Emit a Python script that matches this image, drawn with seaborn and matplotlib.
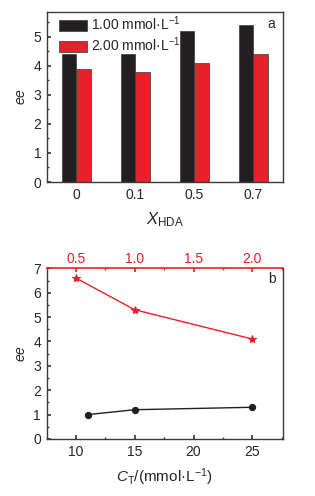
import numpy as np
import pandas as pd
import matplotlib
matplotlib.use("Agg")
import matplotlib.pyplot as plt
import seaborn as sns
from matplotlib.patches import Patch
from matplotlib.ticker import MultipleLocator, FormatStrFormatter

# panel a data
x_hda = ["0", "0.1", "0.5", "0.7"]
ee_100 = [4.4, 4.4, 5.2, 5.4]
ee_200 = [3.9, 3.8, 4.1, 4.4]
conc_labels = ["1.00 mmol·L$^{-1}$", "2.00 mmol·L$^{-1}$"]

# panel b data
ct = [11, 15, 25]
ee_ct = [1.0, 1.2, 1.3]
c_top = [0.5, 1.0, 2.0]
ee_top = [6.6, 5.3, 4.1]

sns.set_theme(style="ticks")
plt.rcParams["font.family"] = ["Liberation Sans", "DejaVu Sans"]
plt.rcParams["mathtext.fontset"] = "custom"
plt.rcParams["mathtext.rm"] = "Liberation Sans"
plt.rcParams["mathtext.it"] = "Liberation Sans:italic"
plt.rcParams["axes.unicode_minus"] = False
plt.rcParams["font.size"] = 10

black = "#231f20"
red = "#e8202a"
spine = "#3a3a3a"

df = pd.DataFrame({
    "x": x_hda * 2,
    "ee": ee_100 + ee_200,
    "conc": [conc_labels[0]] * 4 + [conc_labels[1]] * 4,
})

fig = plt.figure(figsize=(3.15, 4.96), dpi=100)
ax1 = fig.add_axes([0.149, 0.633, 0.749, 0.343])
ax2 = fig.add_axes([0.148, 0.115, 0.750, 0.344])

sns.barplot(data=df, x="x", y="ee", hue="conc", palette=[black, red],
            saturation=1, width=0.5, edgecolor=spine, linewidth=0.5,
            legend=False, ax=ax1)
ax1.set_xlim(-0.5, 3.5)
ax1.set_ylim(0, 5.85)
ax1.yaxis.set_major_locator(MultipleLocator(1))
ax1.yaxis.set_minor_locator(MultipleLocator(0.5))
ax1.set_ylabel("$\\it{ee}$", fontsize=10, labelpad=4)
ax1.set_xlabel("$X_{\\mathrm{HDA}}$", fontsize=12, labelpad=6)
handles = [Patch(facecolor=black, edgecolor=spine, linewidth=0.5),
           Patch(facecolor=red, edgecolor=spine, linewidth=0.5)]
ax1.legend(handles, conc_labels, loc="upper left", frameon=False,
           handlelength=2.0, handleheight=0.85, handletextpad=0.35,
           labelspacing=0.2, borderaxespad=0.0, borderpad=0.0,
           fontsize=10, bbox_to_anchor=(0.05, 0.985))
ax1.text(0.95, 0.93, "a", transform=ax1.transAxes, ha="center", va="center", fontsize=10)

sns.lineplot(x=ct, y=ee_ct, color=black, marker="o", markersize=4.5,
             markeredgecolor=black, linewidth=1, ax=ax2)
ax2.set_xlim(7.5, 27.6)
ax2.set_ylim(0, 7)
ax2.xaxis.set_major_locator(MultipleLocator(5))
ax2.xaxis.set_minor_locator(MultipleLocator(2.5))
ax2.yaxis.set_major_locator(MultipleLocator(1))
ax2.yaxis.set_minor_locator(MultipleLocator(0.5))
ax2.set_ylabel("$\\it{ee}$", fontsize=10, labelpad=4)
ax2.set_xlabel("$C_{\\mathrm{T}}$/(mmol·L$^{-1}$)", fontsize=11, labelpad=6)
ax2.text(0.953, 0.94, "b", transform=ax2.transAxes, ha="center", va="center", fontsize=10)

ax3 = ax2.twiny()
sns.lineplot(x=c_top, y=ee_top, color=red, marker="*", markersize=6,
             markeredgecolor=red, linewidth=1, ax=ax3)
ax3.set_xlim(0.25, 2.26)
ax3.xaxis.set_major_locator(MultipleLocator(0.5))
ax3.xaxis.set_minor_locator(MultipleLocator(0.25))
ax3.xaxis.set_major_formatter(FormatStrFormatter("%.1f"))
ax3.tick_params(axis="x", colors=red, which="both", direction="in",
                labelsize=10, pad=2, length=3)
ax3.tick_params(axis="x", which="minor", length=1.5)
ax3.spines["top"].set_color(red)
ax3.spines["top"].set_linewidth(1.2)
for s in ["left", "right", "bottom"]:
    ax3.spines[s].set_visible(False)

for ax in (ax1, ax2):
    ax.tick_params(which="both", direction="in", labelsize=10, pad=4,
                   color=spine, top=False, right=False)
    ax.tick_params(which="major", length=3)
    ax.tick_params(which="minor", length=1.5)
    for s in ax.spines.values():
        s.set_color(spine)
        s.set_linewidth(1)
ax2.spines["top"].set_visible(False)

fig.savefig("out.png", dpi=100)
